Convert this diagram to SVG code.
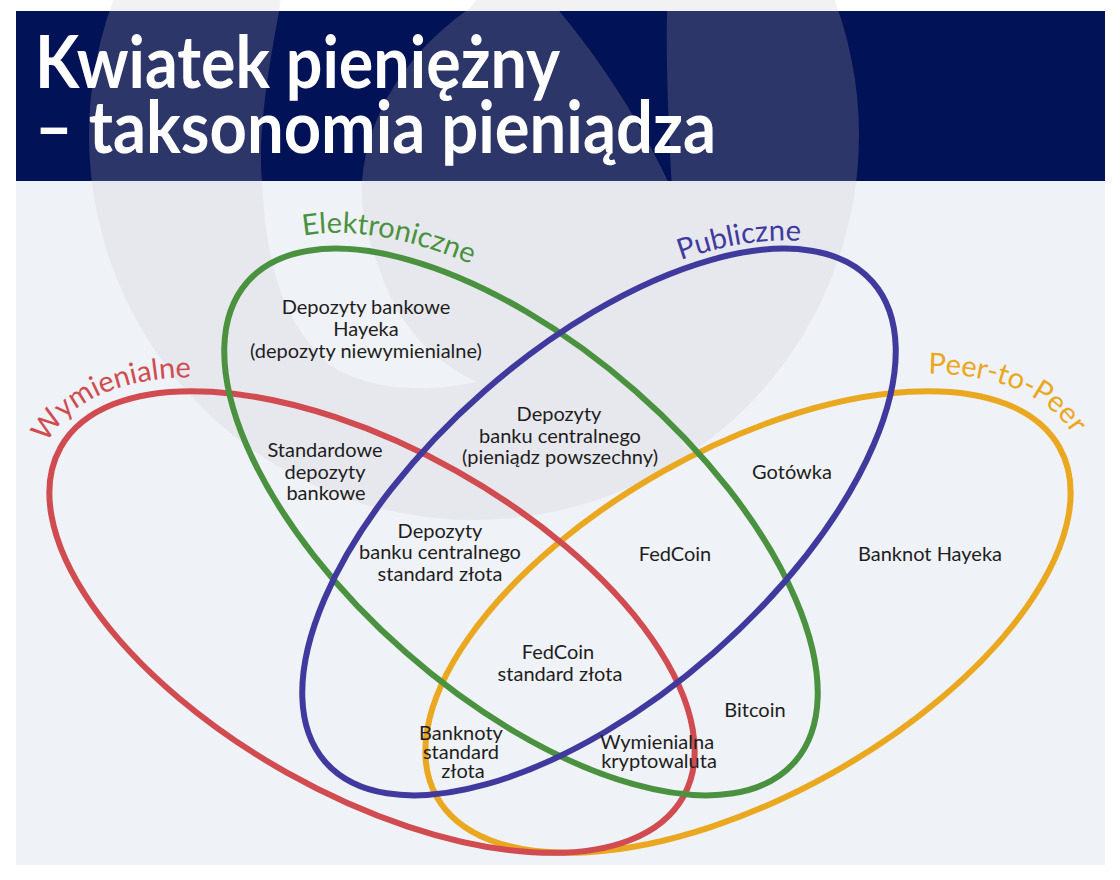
<svg xmlns="http://www.w3.org/2000/svg" xmlns:xlink="http://www.w3.org/1999/xlink" width="1120" height="880" viewBox="0 0 1120 880">
<style>
.set{fill:none;stroke-width:6}
.red{stroke:#d04c50}
.green{stroke:#4a9240}
.blue{stroke:#403a9e}
.yellow{stroke:#eaa720}
.lbl{font-family:Lato,"Liberation Sans",sans-serif;font-size:29px}
.t{font-family:Lato,"Liberation Sans",sans-serif;font-size:20px;fill:#1e1e1e;text-anchor:middle}
.title{font-family:Lato,"Liberation Sans",sans-serif;font-size:72px;font-weight:700;fill:#ffffff}
</style>
<defs>
<clipPath id="clipTop"><rect x="16" y="0" width="1089" height="11"/></clipPath>
<clipPath id="clipTitle"><rect x="16" y="11" width="1089" height="170"/></clipPath>
<clipPath id="clipBody"><rect x="16" y="181" width="1089" height="684"/></clipPath>
<circle id="wmDisc" cx="474" cy="135" r="385"/>
<path id="wmCres" d="M 285 -30 L 279 12 C 266 80 258 140 262 181 C 266 260 280 320 330 365 C 370 392 430 392 477 382 C 430 360 395 320 380 270 C 368 240 360 210 362 181 C 368 110 410 50 470 8 L 500 -30 Z"/>
<path id="wmGap" d="M 545 -30 L 560 12 C 600 60 640 120 672 190 C 668 120 666 60 667 12 L 667 -30 Z"/>
<path id="pRed" d="M 46.9 443.4 A 371 188 29.3 0 1 289.9 389.2"/>
<path id="pGreen" d="M 303.5 235.6 A 380 192 41.25 0 1 606.5 344.2"/>
<path id="pBlue" d="M 680.7 260.2 A 372 184 -41.25 0 1 867 265.7"/>
<path id="pYellow" d="M 928.2 373.5 A 375 192 -29.3 0 1 1087.5 506.8"/>
</defs>

<rect x="0" y="0" width="1120" height="880" fill="#ffffff"/>

<g id="background">
<use xlink:href="#wmDisc" fill="#f2f2f4" clip-path="url(#clipTop)"/>
<use xlink:href="#wmCres" fill="#ffffff" clip-path="url(#clipTop)"/>
<rect x="16" y="11" width="1089" height="170" fill="#021256"/>
<use xlink:href="#wmDisc" fill="#2c3669" clip-path="url(#clipTitle)"/>
<use xlink:href="#wmCres" fill="#021256" clip-path="url(#clipTitle)"/>
<use xlink:href="#wmGap" fill="#021256" clip-path="url(#clipTitle)"/>
<rect x="16" y="181" width="1089" height="684" fill="#eff2f6"/>
<use xlink:href="#wmDisc" fill="#e7e8ed" clip-path="url(#clipBody)"/>
<use xlink:href="#wmCres" fill="#eff2f6" clip-path="url(#clipBody)"/>
</g>

<g id="title">
<text class="title" x="35" y="88" textLength="525" lengthAdjust="spacingAndGlyphs">Kwiatek pieniężny</text>
<text class="title" x="35" y="153" textLength="681" lengthAdjust="spacingAndGlyphs">– taksonomia pieniądza</text>
</g>

<g id="connectors">
<ellipse id="set-p2p" class="set yellow" cx="748" cy="622" rx="357" ry="173" transform="rotate(-29.3 748 622)"/>
<ellipse id="set-wym" class="set red" cx="372" cy="622" rx="357" ry="173" transform="rotate(29.3 372 622)"/>
<ellipse id="set-ele" class="set green" cx="521" cy="522" rx="364" ry="174" transform="rotate(41.25 521 522)"/>
<ellipse id="set-pub" class="set blue" cx="599" cy="522" rx="364" ry="174" transform="rotate(-41.25 599 522)"/>
</g>

<g id="label-wymienialne"><text class="lbl" fill="#d04c50"><textPath xlink:href="#pRed">Wymienialne</textPath></text></g>
<g id="label-elektroniczne"><text class="lbl" fill="#4a9240"><textPath xlink:href="#pGreen">Elektroniczne</textPath></text></g>
<g id="label-publiczne"><text class="lbl" fill="#403a9e"><textPath xlink:href="#pBlue">Publiczne</textPath></text></g>
<g id="label-p2p"><text class="lbl" fill="#eaa720"><textPath xlink:href="#pYellow">Peer-to-Peer</textPath></text></g>

<g id="n-hayek-dep"><text class="t" x="366" y="314">Depozyty bankowe</text><text class="t" x="366" y="336">Hayeka</text><text class="t" x="366" y="358">(depozyty niewymienialne)</text></g>
<g id="n-cb-dep"><text class="t" x="559" y="421">Depozyty</text><text class="t" x="560" y="443">banku centralnego</text><text class="t" x="560" y="464">(pieniądz powszechny)</text></g>
<g id="n-std-dep"><text class="t" x="325" y="457">Standardowe</text><text class="t" x="325" y="479">depozyty</text><text class="t" x="326" y="500">bankowe</text></g>
<g id="n-cb-gold"><text class="t" x="440" y="538">Depozyty</text><text class="t" x="440" y="559">banku centralnego</text><text class="t" x="440" y="581">standard złota</text></g>
<g id="n-gotowka"><text class="t" x="792" y="479">Gotówka</text></g>
<g id="n-fedcoin"><text class="t" x="675" y="561">FedCoin</text></g>
<g id="n-banknot-hayeka"><text class="t" x="930" y="561">Banknot Hayeka</text></g>
<g id="n-fedcoin-gold"><text class="t" x="558" y="659">FedCoin</text><text class="t" x="560" y="681">standard złota</text></g>
<g id="n-bitcoin"><text class="t" x="755" y="717">Bitcoin</text></g>
<g id="n-wym-krypto"><text class="t" x="657" y="749">Wymienialna</text><text class="t" x="659" y="768">kryptowaluta</text></g>
<g id="n-banknoty-gold"><text class="t" x="461" y="740">Banknoty</text><text class="t" x="461" y="759">standard</text><text class="t" x="463" y="778">złota</text></g>
</svg>
